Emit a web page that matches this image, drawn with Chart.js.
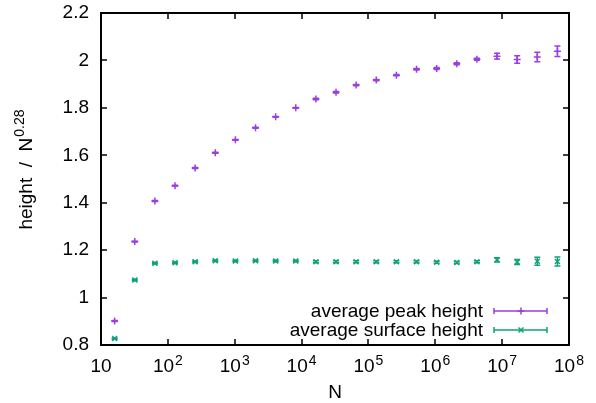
<!DOCTYPE html>
<html>
<head>
<meta charset="utf-8">
<script src="https://cdn.jsdelivr.net/npm/chart.js@4"></script>
<style>
  body { margin: 0; background: #fff; }
</style>
</head>
<body>
<canvas id="chart" width="596" height="403"></canvas>
<script>
// system sizes N = 2^4 ... 2^26
const sizes = [16, 32, 64, 128, 256, 512, 1024, 2048, 4096, 8192, 16384, 32768, 65536,
  131072, 262144, 524288, 1048576, 2097152, 4194304, 8388608, 16777216, 33554432, 67108864];

// average peak height / N^0.28
const peakHeight = [0.901, 1.236, 1.407, 1.472, 1.546, 1.611, 1.665, 1.716, 1.762, 1.800,
  1.837, 1.866, 1.896, 1.917, 1.938, 1.963, 1.966, 1.986, 2.005, 2.018, 2.004, 2.014, 2.039];
const peakErr = [0.002, 0.002, 0.002, 0.002, 0.002, 0.002, 0.002, 0.002, 0.002, 0.002,
  0.003, 0.003, 0.003, 0.003, 0.003, 0.003, 0.004, 0.004, 0.004, 0.012, 0.016, 0.02, 0.022];

// average surface height / N^0.28
const surfaceHeight = [0.827, 1.074, 1.145, 1.147, 1.151, 1.155, 1.154, 1.155, 1.154, 1.154,
  1.151, 1.151, 1.151, 1.151, 1.151, 1.151, 1.149, 1.148, 1.151, 1.159, 1.150, 1.153, 1.152];
const surfaceErr = [0.003, 0.003, 0.003, 0.003, 0.003, 0.003, 0.003, 0.003, 0.003, 0.003,
  0.004, 0.004, 0.004, 0.004, 0.004, 0.004, 0.004, 0.004, 0.004, 0.009, 0.011, 0.017, 0.019];

const xTickExponents = [1, 2, 3, 4, 5, 6, 7, 8];
const yTicks = [0.8, 1, 1.2, 1.4, 1.6, 1.8, 2, 2.2];

const PURPLE = "#9a3ee0";
const GREEN = "#0fa27a";
const FONT = "'Liberation Sans', Arial, Helvetica, sans-serif";

const errors = [peakErr, surfaceErr];

// -------------------------------
// gnuplot-ish frame, ticks, labels, errorbars, key
// -------------------------------
const gnuplotLook = {
  id: "gnuplotLook",
  afterDatasetsDraw(chart) {
    const { ctx, chartArea: a, scales: { x, y } } = chart;
    ctx.save();

    // error bars
    chart.data.datasets.forEach((ds, i) => {
      ctx.strokeStyle = ds.borderColor;
      ctx.lineWidth = 1.5;
      ds.data.forEach((p, j) => {
        const px = x.getPixelForValue(p.x);
        const lo = y.getPixelForValue(p.y - errors[i][j]);
        const hi = y.getPixelForValue(p.y + errors[i][j]);
        ctx.beginPath();
        ctx.moveTo(px, lo); ctx.lineTo(px, hi);
        ctx.moveTo(px - 3, lo); ctx.lineTo(px + 3, lo);
        ctx.moveTo(px - 3, hi); ctx.lineTo(px + 3, hi);
        ctx.stroke();
      });
    });

    // frame
    ctx.strokeStyle = "#000";
    ctx.lineWidth = 2;
    ctx.strokeRect(a.left, a.top, a.right - a.left, a.bottom - a.top);

    // inward ticks on all four sides
    ctx.lineWidth = 1.5;
    ctx.beginPath();
    xTickExponents.forEach(e => {
      const px = Math.round(x.getPixelForValue(Math.pow(10, e)));
      ctx.moveTo(px, a.bottom); ctx.lineTo(px, a.bottom - 6);
      ctx.moveTo(px, a.top); ctx.lineTo(px, a.top + 6);
    });
    yTicks.forEach(v => {
      const py = Math.round(y.getPixelForValue(v));
      ctx.moveTo(a.left, py); ctx.lineTo(a.left + 6, py);
      ctx.moveTo(a.right, py); ctx.lineTo(a.right - 6, py);
    });
    ctx.stroke();

    // x tick labels: 10, 10^2 ... 10^8
    ctx.fillStyle = "#000";
    ctx.textBaseline = "alphabetic";
    ctx.textAlign = "left";
    xTickExponents.forEach(e => {
      const px = x.getPixelForValue(Math.pow(10, e));
      ctx.font = "19px " + FONT;
      const wBase = ctx.measureText("10").width;
      let wSup = 0;
      if (e > 1) {
        ctx.font = "14px " + FONT;
        wSup = ctx.measureText(String(e)).width + 1;
      }
      const x0 = px - (wBase + wSup) / 2;
      ctx.font = "19px " + FONT;
      ctx.fillText("10", x0, 372);
      if (e > 1) {
        ctx.font = "14px " + FONT;
        ctx.fillText(String(e), x0 + wBase + 1, 365);
      }
    });

    // x title
    ctx.font = "19px " + FONT;
    ctx.textAlign = "center";
    ctx.fillText("N", (a.left + a.right) / 2, 398);

    // y title: height / N^0.28 (rotated)
    ctx.save();
    ctx.translate(32, 170);
    ctx.rotate(-Math.PI / 2);
    ctx.textAlign = "left";
    ctx.font = "19px " + FONT;
    const main = "height  /  N";
    const wMain = ctx.measureText(main).width;
    ctx.font = "14px " + FONT;
    const wExp = ctx.measureText("0.28").width;
    const start = -(wMain + wExp) / 2;
    ctx.font = "19px " + FONT;
    ctx.fillText(main, start, 0);
    ctx.font = "14px " + FONT;
    ctx.fillText("0.28", start + wMain + 1, -8);
    ctx.restore();

    // key, bottom right inside the frame
    const rows = [311, 330];
    chart.data.datasets.forEach((ds, i) => {
      const ry = rows[i];
      ctx.font = "19px " + FONT;
      ctx.textAlign = "right";
      ctx.textBaseline = "middle";
      ctx.fillStyle = "#000";
      ctx.fillText(ds.label, 483, ry + 1);
      ctx.strokeStyle = ds.borderColor;
      ctx.lineWidth = 1.5;
      ctx.beginPath();
      ctx.moveTo(494, ry); ctx.lineTo(547, ry);
      ctx.moveTo(494, ry - 3); ctx.lineTo(494, ry + 3);
      ctx.moveTo(547, ry - 3); ctx.lineTo(547, ry + 3);
      ctx.stroke();
      ctx.beginPath();
      if (ds.pointStyle === "cross") {
        ctx.moveTo(521, ry - 3.5); ctx.lineTo(521, ry + 3.5);
        ctx.moveTo(517.5, ry); ctx.lineTo(524.5, ry);
      } else {
        ctx.moveTo(518.5, ry - 2.5); ctx.lineTo(523.5, ry + 2.5);
        ctx.moveTo(518.5, ry + 2.5); ctx.lineTo(523.5, ry - 2.5);
      }
      ctx.stroke();
    });

    ctx.restore();
  }
};

new Chart(document.getElementById("chart"), {
  type: "scatter",
  data: {
    datasets: [
      {
        label: "average peak height",
        data: sizes.map((n, i) => ({ x: n, y: peakHeight[i] })),
        borderColor: PURPLE,
        backgroundColor: PURPLE,
        pointStyle: "cross",
        pointRadius: 3.5,
        borderWidth: 1.5
      },
      {
        label: "average surface height",
        data: sizes.map((n, i) => ({ x: n, y: surfaceHeight[i] })),
        borderColor: GREEN,
        backgroundColor: GREEN,
        pointStyle: "crossRot",
        pointRadius: 3.5,
        borderWidth: 1.5
      }
    ]
  },
  options: {
    responsive: false,
    animation: false,
    layout: { padding: { top: 13, right: 27, left: 0, bottom: 0 } },
    plugins: { legend: { display: false }, tooltip: { enabled: false } },
    scales: {
      x: {
        type: "logarithmic",
        min: 10,
        max: 1e8,
        grid: { display: false },
        border: { display: false },
        ticks: { display: false },
        afterBuildTicks: s => { s.ticks = xTickExponents.map(e => ({ value: Math.pow(10, e) })); },
        afterFit: s => { s.height = 58; s.paddingLeft = 0; s.paddingRight = 0; }
      },
      y: {
        min: 0.8,
        max: 2.2,
        grid: { display: false, drawTicks: false },
        border: { display: false },
        afterBuildTicks: s => { s.ticks = yTicks.map(v => ({ value: v })); },
        ticks: {
          padding: 12,
          color: "#000",
          font: { size: 19, family: FONT },
          callback: v => String(Number(v.toFixed(1)))
        },
        afterFit: s => { s.width = 101; s.paddingTop = 0; s.paddingBottom = 0; }
      }
    }
  },
  plugins: [gnuplotLook]
});
</script>
</body>
</html>
